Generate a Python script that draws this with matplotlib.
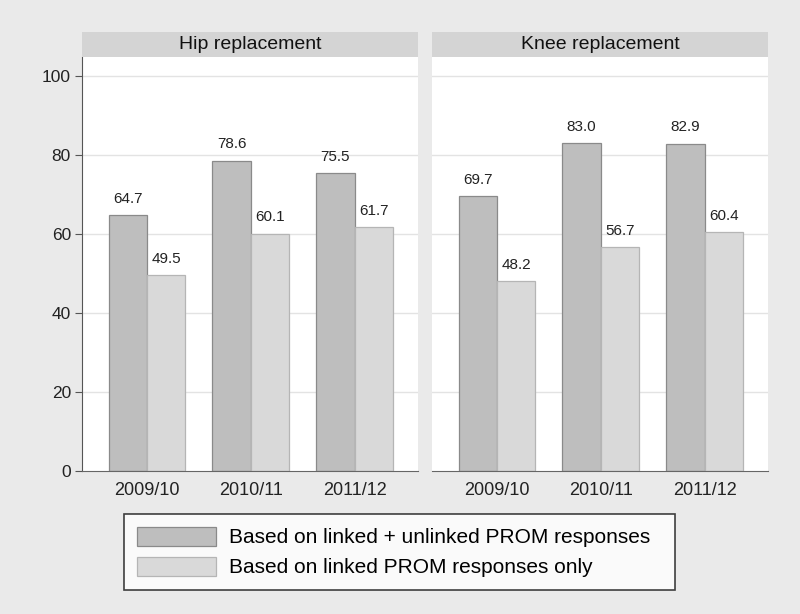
import matplotlib
matplotlib.use("Agg")
import matplotlib.pyplot as plt
import numpy as np
from matplotlib.patches import Rectangle, Patch

plt.rcParams['font.family'] = ['Liberation Sans', 'DejaVu Sans']

years = ["2009/10", "2010/11", "2011/12"]
panels = ["Hip replacement", "Knee replacement"]
series_names = ["Based on linked + unlinked PROM responses",
                "Based on linked PROM responses only"]
hip_all = [64.7, 78.6, 75.5]
hip_linked = [49.5, 60.1, 61.7]
knee_all = [69.7, 83.0, 82.9]
knee_linked = [48.2, 56.7, 60.4]
yticks = [0, 20, 40, 60, 80, 100]

bg = "#EAEAEA"
dark = "#BEBEBE"
light = "#D9D9D9"
edge = "#8A8A8A"
strip = "#D4D4D4"

fig = plt.figure(figsize=(8, 6.14), dpi=100, facecolor=bg)

data = [(hip_all, hip_linked), (knee_all, knee_linked)]
lefts = [82/800, 432/800]
w_ax = 336/800
bottom = 1 - 471/614
height = (471 - 57)/614

w = 0.37
x = np.arange(len(years))
for i, (title, (a, b)) in enumerate(zip(panels, data)):
    ax = fig.add_axes([lefts[i], bottom, w_ax, height])
    ax.set_facecolor("white")
    ax.set_ylim(0, 104.8)
    ax.set_xlim(-0.626, 2.61)
    for yv in yticks[1:]:
        ax.axhline(yv, color="#E3E3E3", lw=1, zorder=0)
    ax.bar(x - w/2, a, width=w, color=dark, edgecolor=edge, lw=0.9, zorder=2)
    ax.bar(x + w/2, b, width=w, color=light, edgecolor="#B5B5B5", lw=0.9, zorder=2)
    for xi, v in zip(x - w/2, a):
        ax.text(xi, v + 2.3, f"{v:.1f}", ha="center", va="bottom", fontsize=11, color="#222222")
    for xi, v in zip(x + w/2, b):
        ax.text(xi, v + 2.3, f"{v:.1f}", ha="center", va="bottom", fontsize=11, color="#222222")
    ax.set_xticks(x)
    ax.set_xticklabels(years, fontsize=13, color="#222222")
    ax.tick_params(axis='x', length=0, pad=8)
    for s in ["top", "right"]:
        ax.spines[s].set_visible(False)
    ax.spines["bottom"].set_color("#666666")
    if i == 0:
        ax.set_yticks(yticks)
        ax.set_yticklabels([str(t) for t in yticks], fontsize=12.5, color="#222222")
        ax.tick_params(axis='y', length=5, color="#555555", width=0.8, pad=3)
        ax.spines["left"].set_color("#555555")
        ax.spines["left"].set_linewidth(0.8)
    else:
        ax.set_yticks([])
        ax.spines["left"].set_visible(False)
    # strip header
    fig.patches.append(Rectangle((lefts[i], 1 - 57/614), w_ax, 25/614,
                                 transform=fig.transFigure, facecolor=strip,
                                 edgecolor="none"))
    fig.text(lefts[i] + w_ax/2, 1 - 44.5/614, title, ha="center", va="center",
             fontsize=14, color="#111111")

handles = [Patch(facecolor=dark, edgecolor=edge, lw=0.9),
           Patch(facecolor=light, edgecolor="#B5B5B5", lw=0.9)]
leg = fig.legend(handles, series_names, loc="center",
                 bbox_to_anchor=(124/800, 1 - 590/614, 551/800, 76/614), mode="expand",
                 fontsize=15, frameon=True, fancybox=False, handlelength=3.8,
                 handleheight=1.05, handletextpad=0.65, labelspacing=0.45,
                 borderpad=0.6, borderaxespad=0)
leg.get_frame().set_edgecolor("#111111")
leg.get_frame().set_linewidth(1.2)
leg.get_frame().set_facecolor("white")

fig.savefig("out.png", dpi=100, facecolor=bg)
